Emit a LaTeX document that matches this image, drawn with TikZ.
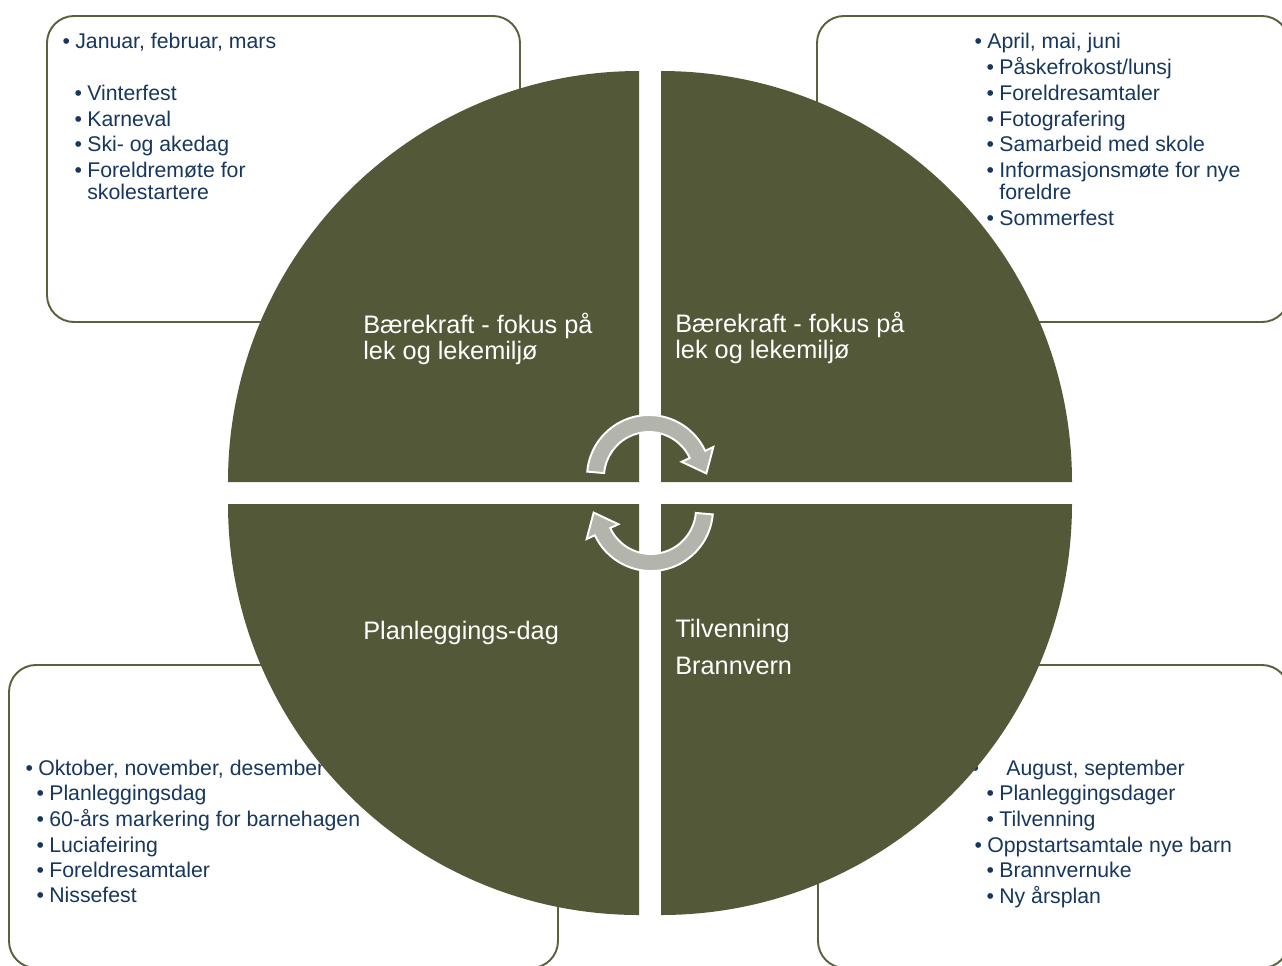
\documentclass[tikz,border=0pt]{standalone}
\usepackage{fontspec}
\setmainfont{Liberation Sans}
\usepackage{tikz}
\usetikzlibrary{calc}
\usetikzlibrary{positioning}
\usepackage{xcolor}
\definecolor{olivefill}{RGB}{83,89,56}
\definecolor{oliveline}{RGB}{92,96,60}
\definecolor{txtblue}{RGB}{23,55,94}
\definecolor{arrowgray}{RGB}{179,181,173}
\newcommand{\bull}{\llap{\textbullet\hspace{3pt}}}

\begin{document}
\begin{tikzpicture}[x=0.02cm,y=0.02cm]

	\tikzstyle{box} = [draw=oliveline, line width=1.1pt, fill=white, rounded corners=0.54cm]
	\tikzstyle{quarter} = [fill=olivefill]
	\tikzstyle{item} = [anchor=base west, inner sep=0pt, text=txtblue, font=\fontsize{12.1}{14}\selectfont]
	\tikzstyle{qtext} = [anchor=base west, inner sep=0pt, text=white, font=\fontsize{14.4}{16}\selectfont]
	\tikzstyle{turn} = [fill=arrowgray, draw=white, line width=1.1pt, line join=miter]

	\useasboundingbox (0,0) rectangle (1282,-965);
	\clip (0,0) rectangle (1282,-965);

	% boxes
	\draw [box] (47,-16) rectangle (520,-322);
	\draw [box] (817,-16) rectangle (1289,-322);
	\draw [box] (9,-665) rectangle (558,-968);
	\draw [box] (818,-665) rectangle (1289,-968);

	% januar - mars
	\node [item] (tl1) at (75,-48) {\bull Januar, februar, mars};
	\node [item] (tl2) at ($(tl1.base west)+(12,-52)$) {\bull Vinterfest};
	\node [item] (tl3) at ($(tl2.base west)+(0,-26)$) {\bull Karneval};
	\node [item] (tl4) at ($(tl3.base west)+(0,-25)$) {\bull Ski- og akedag};
	\node [item] (tl5) at ($(tl4.base west)+(0,-26)$) {\bull Foreldremøte for};
	\node [item] (tl5b) at ($(tl5.base west)+(0,-22)$) {skolestartere};

	% april - juni
	\node [item] (tr1) at (987,-48) {\bull April, mai, juni};
	\node [item] (tr2) at ($(tr1.base west)+(12,-26)$) {\bull Påskefrokost/lunsj};
	\node [item] (tr3) at ($(tr2.base west)+(0,-26)$) {\bull Foreldresamtaler};
	\node [item] (tr4) at ($(tr3.base west)+(0,-26)$) {\bull Fotografering};
	\node [item] (tr5) at ($(tr4.base west)+(0,-25)$) {\bull Samarbeid med skole};
	\node [item] (tr6) at ($(tr5.base west)+(0,-26)$) {\bull Informasjonsmøte for nye};
	\node [item] (tr6b) at ($(tr6.base west)+(0,-22)$) {foreldre};
	\node [item] (tr7) at ($(tr6b.base west)+(0,-26)$) {\bull Sommerfest};

	% oktober - desember
	\node [item] (bl1) at (38,-775) {\bull Oktober, november, desember};
	\node [item] (bl2) at ($(bl1.base west)+(11,-25)$) {\bull Planleggingsdag};
	\node [item] (bl3) at ($(bl2.base west)+(0,-26)$) {\bull 60-års markering for barnehagen};
	\node [item] (bl4) at ($(bl3.base west)+(0,-26)$) {\bull Luciafeiring};
	\node [item] (bl5) at ($(bl4.base west)+(0,-25)$) {\bull Foreldresamtaler};
	\node [item] (bl6) at ($(bl5.base west)+(0,-25)$) {\bull Nissefest};

	% august - september
	\node [item] (br1) at (1006,-775) {\llap{\textbullet\hspace{15.5pt}}August, september};
	\node [item] (br2) at ($(br1.base west)+(-7,-25)$) {\bull Planleggingsdager};
	\node [item] (br3) at ($(br2.base west)+(0,-26)$) {\bull Tilvenning};
	\node [item] (br4) at ($(br3.base west)+(-12,-26)$) {\bull Oppstartsamtale nye barn};
	\node [item] (br5) at ($(br4.base west)+(12,-25)$) {\bull Brannvernuke};
	\node [item] (br6) at ($(br5.base west)+(0,-26)$) {\bull Ny årsplan};

	% circle
	\path [quarter] (639,-482) -- (228,-482) arc[start angle=180, end angle=90, radius=411] -- cycle;
	\path [quarter] (661,-482) -- (661,-71) arc[start angle=90, end angle=0, radius=411] -- cycle;
	\path [quarter] (639,-504) -- (228,-504) arc[start angle=180, end angle=270, radius=411] -- cycle;
	\path [quarter] (661,-504) -- (1072,-504) arc[start angle=0, end angle=-90, radius=411] -- cycle;

	\node [qtext] (q1a) at (363,-333) {Bærekraft - fokus på};
	\node [qtext] (q1b) at ($(q1a.base west)+(0,-26)$) {lek og lekemiljø};
	\node [qtext] (q2a) at (675,-332) {Bærekraft - fokus på};
	\node [qtext] (q2b) at ($(q2a.base west)+(0,-26)$) {lek og lekemiljø};
	\node [qtext] (q3) at (363,-639) {Planleggings-dag};
	\node [qtext] (q4a) at (675,-637) {Tilvenning};
	\node [qtext] (q4b) at ($(q4a.base west)+(0,-37)$) {Brannvern};

	% arrows
	\coordinate (ca) at (649,-477);
	\coordinate (cb) at (651,-509);
	\draw [turn] ($(ca)+(175:62)$) arc[start angle=175, end angle=25, radius=62]
		-- ($(ca)+(25:71)$) -- ($(ca)+(25:53.5)+(-65:21)$) -- ($(ca)+(25:36)$)
		-- ($(ca)+(25:45)$) arc[start angle=25, end angle=175, radius=45] -- cycle;
	\draw [turn] ($(cb)+(355:62)$) arc[start angle=355, end angle=205, radius=62]
		-- ($(cb)+(205:71)$) -- ($(cb)+(205:53.5)+(115:21)$) -- ($(cb)+(205:36)$)
		-- ($(cb)+(205:45)$) arc[start angle=205, end angle=355, radius=45] -- cycle;

\end{tikzpicture}
\end{document}
